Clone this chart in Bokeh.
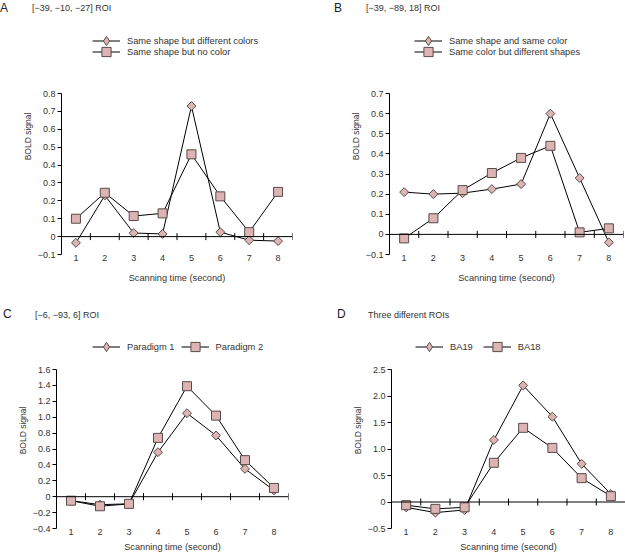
import math
from bokeh.plotting import figure
from bokeh.models import Range1d, FixedTicker, Span, Legend, LegendItem, Div
from bokeh.layouts import column, row
from bokeh.embed import file_html
from bokeh.resources import INLINE

# ---------------- data ----------------
time_s = [1, 2, 3, 4, 5, 6, 7, 8]

a_names = ["Same shape but different colors", "Same shape but no color"]
a_diamond = [-0.035, 0.23, 0.02, 0.015, 0.73, 0.025, -0.02, -0.025]
a_square = [0.10, 0.245, 0.115, 0.13, 0.46, 0.225, 0.025, 0.25]
a_yticks = [-0.1, 0, 0.1, 0.2, 0.3, 0.4, 0.5, 0.6, 0.7, 0.8]
a_ylabels = ["\u22120.1", "0", "0.1", "0.2", "0.3", "0.4", "0.5", "0.6", "0.7", "0.8"]

b_names = ["Same shape and same color", "Same color but different shapes"]
b_diamond = [0.21, 0.20, 0.205, 0.225, 0.25, 0.60, 0.28, -0.04]
b_square = [-0.02, 0.08, 0.22, 0.305, 0.38, 0.44, 0.01, 0.03]
b_yticks = [-0.1, 0, 0.1, 0.2, 0.3, 0.4, 0.5, 0.6, 0.7]
b_ylabels = ["\u22120.1", "0", "0.1", "0.2", "0.3", "0.4", "0.5", "0.6", "0.7"]

c_names = ["Paradigm 1", "Paradigm 2"]
c_diamond = [-0.05, -0.10, -0.09, 0.56, 1.05, 0.77, 0.35, 0.08]
c_square = [-0.05, -0.12, -0.09, 0.74, 1.39, 1.02, 0.46, 0.11]
c_yticks = [-0.4, -0.2, 0, 0.2, 0.4, 0.6, 0.8, 1.0, 1.2, 1.4, 1.6]
c_ylabels = ["\u22120.4", "\u22120.2", "0", "0.2", "0.4", "0.6", "0.8", "1.0", "1.2", "1.4", "1.6"]

d_names = ["BA19", "BA18"]
d_diamond = [-0.10, -0.20, -0.15, 1.17, 2.20, 1.61, 0.72, 0.15]
d_square = [-0.06, -0.13, -0.10, 0.74, 1.40, 1.02, 0.45, 0.11]
d_yticks = [-0.5, 0, 0.5, 1.0, 1.5, 2.0, 2.5]
d_ylabels = ["\u22120.5", "0", "0.5", "1.0", "1.5", "2.0", "2.5"]

titles = ["[\u221239, \u221210, \u221227] ROI", "[\u221239, \u221289, 18] ROI",
          "[\u22126, \u221293, 6] ROI", "Three different ROIs"]
letters = ["A", "B", "C", "D"]

FONT = "Liberation Sans"
FILL = "#dcb4b4"
EDGE = "#5a4a4a"
TXT = "#333333"
NAN = float("nan")


def header(letter, title, width, height, ltop, lx, ttop, tx):
    html = (
        f'<div style="position:relative;width:{width}px;height:{height}px;'
        f'font-family:\'{FONT}\';color:{TXT};white-space:nowrap;">'
        f'<span style="position:absolute;left:{lx}px;top:{ltop}px;font-size:12px;'
        f'line-height:12px;color:#222222;">{letter}</span>'
        f'<span style="position:absolute;left:{tx}px;top:{ttop}px;font-size:9px;'
        f'line-height:10px;">{title}</span></div>'
    )
    return Div(text=html, width=width, height=height, margin=0)


def make_legend(items, loc, horizontal, gspace):
    return Legend(items=items, location=loc,
                  orientation="horizontal" if horizontal else "vertical",
                  padding=0, margin=0, spacing=gspace,
                  glyph_width=28, glyph_height=23, label_height=11,
                  label_standoff=7, label_text_font=FONT,
                  label_text_font_size="9.3px", label_text_color=TXT,
                  border_line_color=None, background_fill_alpha=0)


def panel(names, s1, s2, yticks, ylabels, horizontal,
          ml, fw, mr, mt, ext, ph, mb, title_standoff, gx, gy, gspace):
    ymin, ymax = yticks[0], yticks[-1]
    ytop = ymax + ext / ph * (ymax - ymin)
    p = figure(width=ml + fw + mr, height=mt + ext + ph + mb,
               min_border_left=ml, min_border_right=mr,
               min_border_top=mt, min_border_bottom=mb,
               x_range=Range1d(0.5, 8.5),
               y_range=Range1d(ymin, ytop),
               output_backend="svg", toolbar_location=None)
    p.outline_line_color = None
    p.xgrid.visible = False
    p.ygrid.visible = False

    # zero line with category separators
    p.add_layout(Span(location=0, dimension="width", line_color="black", line_width=1))
    bounds = [t + 0.5 for t in time_s]
    p.scatter(bounds, [0] * len(bounds), marker="dash", angle=math.pi / 2,
              size=7, line_color="black", line_width=1)

    p.line(time_s, s1, line_color="black", line_width=1)
    p.line(time_s, s2, line_color="black", line_width=1)
    p.scatter(time_s, s1, marker="square", angle=math.pi / 4, size=6.3,
              fill_color=FILL, line_color=EDGE, line_width=1)
    p.scatter(time_s, s2, marker="square", size=9,
              fill_color=FILL, line_color=EDGE, line_width=1)

    # legend-key renderers (a single NaN point, so nothing shows in the plot)
    l1 = p.line([NAN], [NAN], line_color="black", line_width=1)
    k1 = p.scatter([NAN], [NAN], marker="diamond", size=9, fill_color=FILL,
                   line_color=EDGE, line_width=1)
    l2 = p.line([NAN], [NAN], line_color="black", line_width=1)
    k2 = p.scatter([NAN], [NAN], marker="square", size=9, fill_color=FILL,
                   line_color=EDGE, line_width=1)
    it1 = LegendItem(label=names[0], renderers=[l1, k1])
    it2 = LegendItem(label=names[1], renderers=[l2, k2])

    if horizontal:
        p.add_layout(make_legend([it1, it2], (gx, gy), True, gspace))
    else:
        # one legend per row so that rows can sit closer than the key height
        p.add_layout(make_legend([it1], (gx, gy + 11), False, 0))
        p.add_layout(make_legend([it2], (gx, gy), False, 0))

    ya = p.yaxis[0]
    ya.ticker = FixedTicker(ticks=yticks)
    ya.bounds = (ymin, ymax)
    ya.major_label_overrides = dict(zip(yticks, ylabels))
    ya.minor_tick_line_color = None
    ya.major_tick_in = 0
    ya.major_tick_out = 4
    ya.axis_line_color = "black"
    ya.major_tick_line_color = "black"
    ya.major_label_text_font = FONT
    ya.major_label_text_font_size = "9px"
    ya.major_label_text_color = TXT
    ya.major_label_standoff = 2
    ya.axis_label = "BOLD signal"
    ya.axis_label_text_font = FONT
    ya.axis_label_text_font_size = "8.5px"
    ya.axis_label_text_font_style = "normal"
    ya.axis_label_text_color = TXT
    ya.axis_label_standoff = 2

    xa = p.xaxis[0]
    xa.ticker = FixedTicker(ticks=time_s)
    xa.axis_line_color = None
    xa.major_tick_line_color = None
    xa.minor_tick_line_color = None
    xa.major_tick_out = 0
    xa.major_tick_in = 0
    xa.major_label_standoff = 0
    xa.major_label_text_font = FONT
    xa.major_label_text_font_size = "9px"
    xa.major_label_text_color = TXT
    xa.axis_label = "Scanning time (second)"
    xa.axis_label_text_font = FONT
    xa.axis_label_text_font_size = "9.2px"
    xa.axis_label_text_font_style = "normal"
    xa.axis_label_text_color = TXT
    xa.axis_label_standoff = title_standoff
    return p


# top row: header 16 px + figure 274 px ; bottom row: header 40 px + figure 224 px
hA = header(letters[0], titles[0], 312, 16, 2, 0, 3, 32)
hB = header(letters[1], titles[1], 313, 16, 2, 22, 3, 54)
hC = header(letters[2], titles[2], 312, 40, 18, 3, 20, 35)
hD = header(letters[3], titles[3], 313, 40, 18, 25, 20, 56)

pA = panel(a_names, a_diamond, a_square, a_yticks, a_ylabels, False,
           61, 231, 20, 2, 75, 161, 36, 9, 31, 191, 0)
pB = panel(b_names, b_diamond, b_square, b_yticks, b_ylabels, False,
           77, 234, 2, 2, 75, 161, 36, 9, 25, 191, 0)
pC = panel(c_names, c_diamond, c_square, c_yticks, c_ylabels, True,
           56, 232, 24, 2, 37, 159, 26, 4, 36, 170, 6)
pD = panel(d_names, d_diamond, d_square, d_yticks, d_ylabels, True,
           79, 234, 0, 2, 37, 159, 26, 4, 24, 170, 10)

layout = column(row(column(hA, pA), column(hB, pB)),
                row(column(hC, pC), column(hD, pD)))
open("out.html", "w").write(file_html(layout, INLINE))
